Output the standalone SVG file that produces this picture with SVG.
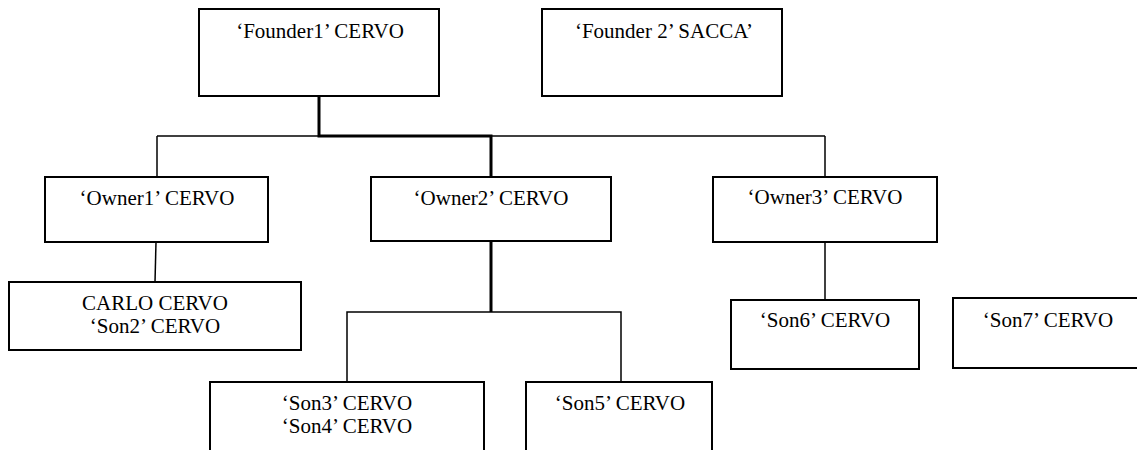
<svg xmlns="http://www.w3.org/2000/svg" width="1137" height="450" viewBox="0 0 1137 450">
<style>
.box{fill:#fff;stroke:#000;stroke-width:2}
.t{font-family:'Liberation Serif','Times New Roman',Tinos,'DejaVu Serif',serif;font-size:21px;fill:#000;text-anchor:middle}
.c{fill:none;stroke:#000;stroke-width:1.5}
.ck{fill:none;stroke:#000;stroke-width:3}
</style>
<rect width="1137" height="450" fill="#fff"/>
<g id="connectors">
<line class="c" x1="157" y1="136" x2="825" y2="136"/>
<line class="c" x1="157" y1="136" x2="157" y2="177"/>
<line class="c" x1="825" y1="136" x2="825" y2="177"/>
<polyline class="ck" points="319,96 319,136 491,136 491,177"/>
<line class="c" x1="156" y1="242" x2="155" y2="282"/>
<line class="ck" x1="491" y1="241" x2="491" y2="312"/>
<polyline class="c" points="347,382 347,312 621,312 621,382"/>
<line class="c" x1="825" y1="242" x2="825" y2="300"/>
</g>
<g id="founder1"><rect class="box" x="199" y="9" width="240" height="87"/><text class="t" x="320" y="38">‘Founder1’ CERVO</text></g>
<g id="founder2"><rect class="box" x="542" y="9" width="240" height="87"/><text class="t" x="664" y="38">‘Founder 2’ SACCA’</text></g>
<g id="owner1"><rect class="box" x="45" y="177" width="223" height="65"/><text class="t" x="157" y="205">‘Owner1’ CERVO</text></g>
<g id="owner2"><rect class="box" x="371" y="177" width="240" height="64"/><text class="t" x="491" y="205">‘Owner2’ CERVO</text></g>
<g id="owner3"><rect class="box" x="713" y="177" width="224" height="65"/><text class="t" x="825" y="204">‘Owner3’ CERVO</text></g>
<g id="son2"><rect class="box" x="9" y="282" width="292" height="68"/><text class="t" x="155" y="310">CARLO CERVO</text><text class="t" x="155" y="333">‘Son2’ CERVO</text></g>
<g id="son34"><rect class="box" x="210" y="382" width="274" height="80"/><text class="t" x="347" y="410">‘Son3’ CERVO</text><text class="t" x="347" y="433">‘Son4’ CERVO</text></g>
<g id="son5"><rect class="box" x="526" y="382" width="186" height="80"/><text class="t" x="620" y="410">‘Son5’ CERVO</text></g>
<g id="son6"><rect class="box" x="731" y="300" width="188" height="69"/><text class="t" x="825" y="327">‘Son6’ CERVO</text></g>
<g id="son7"><rect class="box" x="953" y="298" width="190" height="70"/><text class="t" x="1048" y="327">‘Son7’ CERVO</text></g>
</svg>
